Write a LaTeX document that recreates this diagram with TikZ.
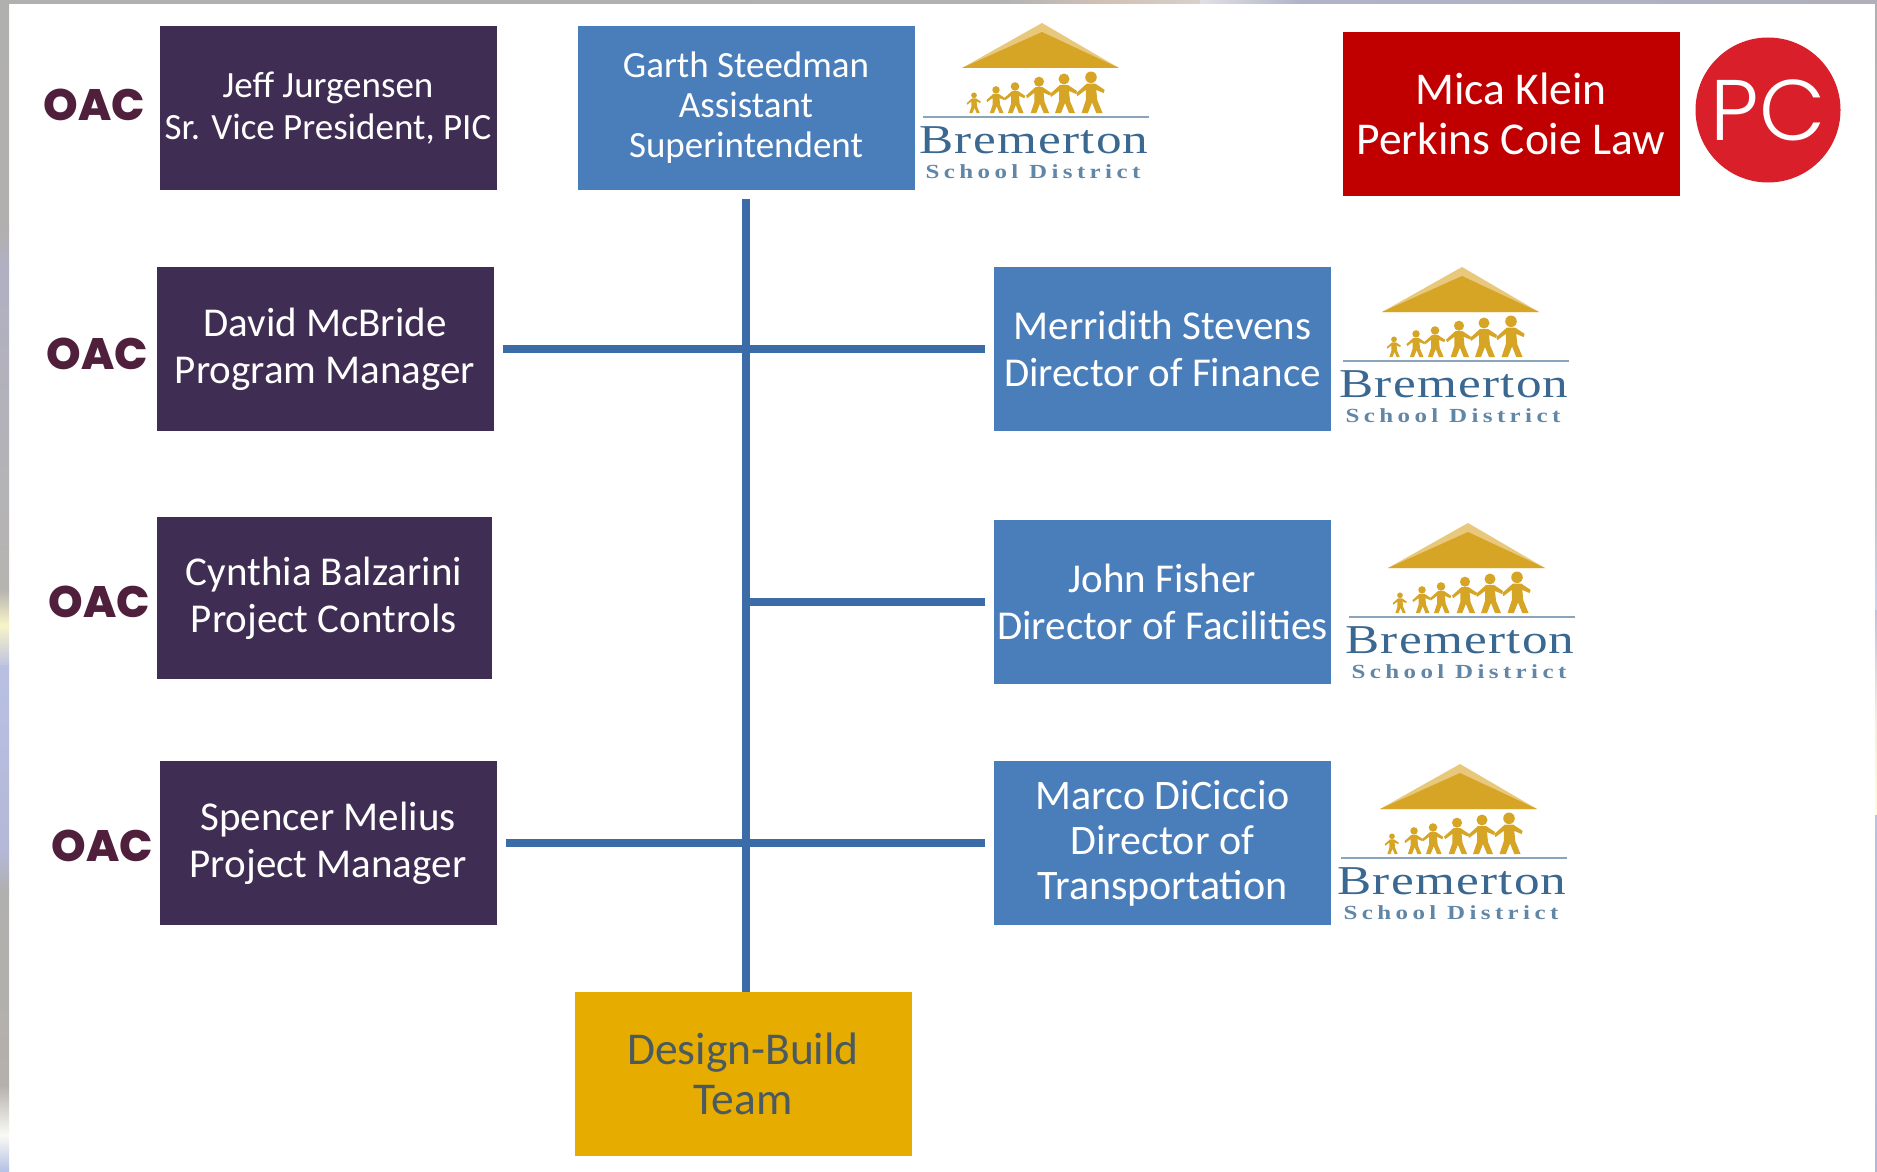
\documentclass[tikz,border=0pt]{standalone}
\usepackage{fontspec}
\setmainfont{Carlito}
\newfontfamily\logofont[FakeStretch=1.25]{Liberation Serif}
\newfontfamily\oacfont{Poppins ExtraBold}
\newfontfamily\pcfont{Poppins Light}
\definecolor{oacpurple}{HTML}{3F2D53}
\definecolor{oacmaroon}{HTML}{4F1F3C}
\definecolor{bsdblue}{HTML}{4A7EBB}
\definecolor{lawred}{HTML}{C00000}
\definecolor{pcred}{HTML}{D9202A}
\definecolor{teamgold}{HTML}{E6AD00}
\definecolor{teamtext}{HTML}{4A5A60}
\definecolor{linkblue}{HTML}{3B6CA8}
\definecolor{roofgold}{HTML}{D6A526}
\definecolor{rooflight}{HTML}{E8C87C}
\definecolor{wordblue}{HTML}{3A6890}
\tikzset{
  namebox/.style={minimum width=337pt,minimum height=164pt,inner sep=0pt,align=center,text=white,
    font=\fontsize{41}{47}\selectfont},
  oacbox/.style={namebox,fill=oacpurple},
  bsdbox/.style={namebox,fill=bsdblue},
  link/.style={draw=linkblue,line width=8pt},
  oacword/.style={text=oacmaroon,inner sep=0pt,font=\oacfont\fontsize{44}{44}\selectfont},
  kid/.pic={
    \fill[roofgold] (0,-34) circle (5.5);
    \fill[roofgold] (-4,-28)--(4,-28)--(13,-22)--(12,-19)--(5,-22)--(6,-12)--(11,0)--(5,0)--(1,-10)
      --(-3,0)--(-9,0)--(-5,-12)--(-5,-22)--(-13,-16)--(-14,-19)--cycle;
  },
  bremerton/.pic={
    \fill[rooflight] (0,0)--(-80,45)--(77,45)--cycle;
    \fill[roofgold] (0,9)--(-80,45)--(77,45)--cycle;
    \foreach \kidx/\kids in {-68/0.52,-46/0.68,-27/0.78,-3/0.92,22/1.0,49/1.05}
      \pic[scale=\kids] at (\kidx,90) {kid};
    \draw[color=wordblue!60,line width=2pt] (-119,94)--(107,94);
    \node[text=wordblue,inner sep=0pt,anchor=base,font=\logofont\fontsize{41}{41}\selectfont\addfontfeature{LetterSpace=3}] (word) at (-8,130) {Bremerton};
    \node[text=wordblue!80,inner sep=0pt,anchor=base,font=\logofont\bfseries\fontsize{20}{20}\selectfont\addfontfeature{LetterSpace=22}] (school) at (-9,155) {School District};
  }
}
\begin{document}
\begin{tikzpicture}[x=1pt,y=-1pt]
\useasboundingbox (0,0) rectangle (1877,1172);

% frame
\foreach \ya/\yb/\ca/\cb in {0/230/B0B0AE/B2B0AE,230/265/B2B0AE/B0B0C2,265/590/B0B0C2/B6B4B0,590/625/B6B4B0/F8F4C8,625/665/F8F4C8/C0C4E0,665/850/B8C0E2/B4B8D8,850/890/B4B8D8/B0B0B0,890/1085/B0B0AE/B4B0AC,1085/1135/B4B0AC/FAFAF4,1135/1172/FAFAF4/B4C0E4}{
  \definecolor{stripa}{HTML}{\ca}
  \definecolor{stripb}{HTML}{\cb}
  \shade[top color=stripa,bottom color=stripb] (0,\ya) rectangle (9,\yb);
}
\foreach \xa/\xb/\ca/\cb in {0/1000/B0B0AE/B2B2B4,1000/1100/B2B2B4/D0C0B4,1100/1200/D0C0B4/D8D0C8,1200/1300/E0E0E4/B0B4C8,1300/1877/B0B4C8/B0B0BC}{
  \definecolor{stripa}{HTML}{\ca}
  \definecolor{stripb}{HTML}{\cb}
  \shade[left color=stripa,right color=stripb] (\xa,0) rectangle (\xb,4);
}
\foreach \ya/\yb/\ca/\cb in {4/500/B0B0B0/C4C4C4,500/610/C4C4C4/C8D4F0,610/720/C0C0DC/F4EEE0,720/815/F4EEE0/FFFCD8,815/1172/B8C4E4/B0B8DC}{
  \definecolor{stripa}{HTML}{\ca}
  \definecolor{stripb}{HTML}{\cb}
  \shade[top color=stripa,bottom color=stripb] (1875,\ya) rectangle (1877,\yb);
}

% OAC
\node[oacbox,font=\fontsize{37}{42}\selectfont] (jeff) at (328,108) {Jeff Jurgensen\\Sr. Vice President, PIC};
\node[oacbox] (david) at (325,349) {David McBride\\Program Manager};
\node[oacbox,minimum width=335pt,minimum height=162pt] (cynthia) at (324,598) {Cynthia Balzarini\\Project Controls};
\node[oacbox] (spencer) at (328,843) {Spencer Melius\\Project Manager};
\node[oacword] (oaca) at (94,105) {OAC};
\node[oacword] (oacb) at (97,354) {OAC};
\node[oacword] (oacc) at (99,602) {OAC};
\node[oacword] (oacd) at (102,846) {OAC};

% Bremerton
\node[bsdbox,font=\fontsize{37}{40}\selectfont] (garth) at (746,108) {Garth Steedman\\Assistant\\Superintendent};
\node[bsdbox] (merridith) at (1162.5,349) {Merridith Stevens\\Director of Finance};
\node[bsdbox] (john) at (1162.5,602) {John Fisher\\Director of Facilities};
\node[bsdbox,font=\fontsize{42}{45}\selectfont] (marco) at (1162.5,843) {Marco DiCiccio\\Director of\\Transportation};
\pic (logoa) at (1042,23) {bremerton};
\pic (logob) at (1462,267) {bremerton};
\pic (logoc) at (1468,523) {bremerton};
\pic (logod) at (1460,764) {bremerton};

% Law
\node[namebox,fill=lawred,font=\fontsize{45.5}{50}\selectfont] (mica) at (1511,114) {Mica Klein\\Perkins Coie Law};
\node[circle,fill=pcred,minimum size=145pt,inner sep=0pt,text=white,font=\pcfont\fontsize{86}{86}\selectfont] (pc) at (1768,110) {PC};

% Team
\node[namebox,fill=teamgold,text=teamtext,font=\fontsize{45.5}{50}\selectfont] (team) at (743,1074) {Design-Build\\Team};

% lines
\draw[link,shorten <=9pt] (garth.south)--(garth.south |- team.north);
\draw[link,shorten <=9pt,shorten >=9pt] (david.east)--(merridith.west);
\draw[link,shorten >=9pt] (garth.south |- john.west)--(john.west);
\draw[link,shorten <=9pt,shorten >=9pt] (spencer.east)--(marco.west);

\end{tikzpicture}
\end{document}
